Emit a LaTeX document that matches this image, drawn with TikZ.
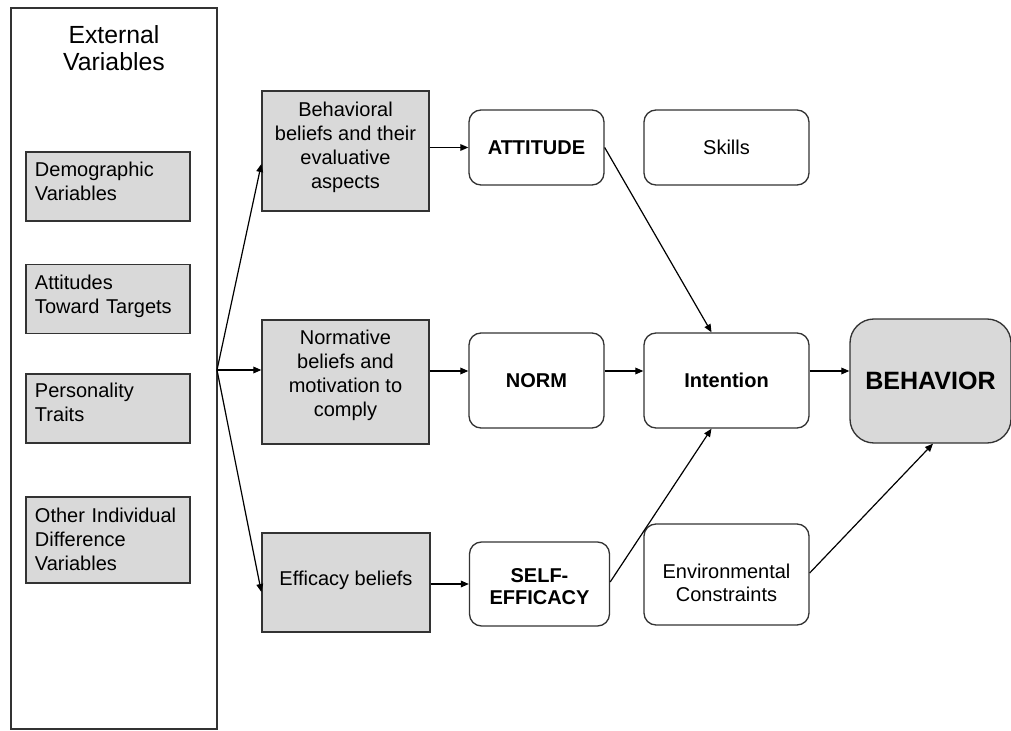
\documentclass[tikz,border=0pt]{standalone}
\usepackage{fontspec}
\setmainfont{Liberation Sans}
\usetikzlibrary{arrows.meta,calc}
\definecolor{boxfill}{HTML}{D9D9D9}
\definecolor{linec}{HTML}{333333}
% lift a block of lines by #1 without changing its size
\newcommand{\liftblock}[3]{\raisebox{#1}[\height][\depth]{\begin{tabular}{@{}#2@{}}#3\end{tabular}}}
\begin{document}
\begin{tikzpicture}[x=0.75pt,y=-0.75pt,
  base/.style={draw=linec, line width=1pt, inner sep=0pt, align=center, font=\fontsize{15}{18}\selectfont, text=black},
  grayrect/.style={base, fill=boxfill},
  leftrect/.style={base, fill=boxfill, align=left, inner xsep=6.75pt, text width=109.5pt},
  rbox/.style={base, fill=white, rounded corners=9pt},
  arr/.style={-{Triangle[length=6pt,width=5pt]}, draw=black, line width=0.9pt}]
\useasboundingbox (0,0) rectangle (1011,731);
% external variables column
\node[base, fill=white, minimum width=154.5pt, minimum height=540.75pt] (ext) at (114,368.5) {};
\node[inner sep=0pt, align=center, font=\fontsize{18.6}{20.25}\selectfont] (exttitle) at (114,48.5) {External\\Variables};
\node[leftrect, minimum height=51.75pt] (demo) at (108,186.5) {\liftblock{2pt}{l}{Demographic\\Variables}};
\node[leftrect, minimum height=51.75pt] (atttarg) at (108,299) {\liftblock{2pt}{l}{Attitudes\\Toward Targets}};
\node[leftrect, minimum height=51.75pt] (pers) at (108,408.5) {\liftblock{2.5pt}{l}{Personality\\Traits}};
\node[leftrect, minimum height=64.5pt] (other) at (108,540) {\liftblock{-1.5pt}{l}{Other Individual\\Difference\\Variables}};
% belief boxes
\node[grayrect, minimum width=125.25pt, minimum height=90pt] (beh) at (345.5,151) {\liftblock{2.8pt}{c}{Behavioral\\beliefs and their\\evaluative\\aspects}};
\node[grayrect, minimum width=125.25pt, minimum height=93pt] (normb) at (345.5,382) {\liftblock{5pt}{c}{Normative\\beliefs and\\motivation to\\comply}};
\node[grayrect, minimum width=126pt, minimum height=74.25pt] (effb) at (346,582.5) {\liftblock{1.7pt}{c}{Efficacy beliefs}};
% determinants
\node[rbox, minimum width=101.25pt, minimum height=56.25pt, font=\fontsize{15}{18}\selectfont\bfseries] (attn) at (536.5,147.5) {ATTITUDE};
\node[rbox, minimum width=123.75pt, minimum height=56.25pt] (skills) at (726.5,147.5) {Skills};
\node[rbox, minimum width=101.25pt, minimum height=71.25pt, font=\fontsize{15}{18}\selectfont\bfseries] (normn) at (536.5,380.5) {NORM};
\node[rbox, minimum width=123.75pt, minimum height=71.25pt, font=\fontsize{15}{18}\selectfont\bfseries] (intent) at (726.5,380.5) {Intention};
\node[rbox, fill=boxfill, rounded corners=18pt, minimum width=120.75pt, minimum height=93pt, font=\fontsize{18.8}{22}\selectfont\bfseries] (behav) at (930.5,381) {BEHAVIOR};
\node[rbox, minimum width=105pt, minimum height=63pt, font=\fontsize{15}{16.25}\selectfont\bfseries] (self) at (539.5,584) {\liftblock{-3.9pt}{c}{SELF-\\EFFICACY}};
\node[rbox, minimum width=123.75pt, minimum height=75.75pt, font=\fontsize{15}{17.25}\selectfont] (env) at (726.5,574.5) {\liftblock{-7.8pt}{c}{Environmental\\Constraints}};
% connectors
\coordinate (fan) at (217,370);
\draw[arr] (fan) -- ($(beh.west)+(0,13)$);
\draw[arr] (fan) -- ($(normb.west)+(0,-12)$);
\draw[arr] (fan) -- ($(effb.west)+(0,9.5)$);
\draw[arr] (beh.east |- attn.west) -- (attn.west);
\draw[arr] ($(normb.east)+(0,-11)$) coordinate (nb) -- (normn.west |- nb);
\draw[arr] (effb.east |- self.west) -- (self.west);
\draw[arr] ($(normn.east)+(0,-9.5)$) coordinate (ni) -- (intent.west |- ni);
\draw[arr] ($(intent.east)+(0,-9.5)$) coordinate (ib) -- (behav.west |- ib);
\draw[arr] (attn.east) -- ($(intent.north)+(-15,0)$);
\draw[arr] ($(self.east)+(0,-2)$) -- ($(intent.south)+(-15,0)$);
\draw[arr] ($(env.east)+(0,-1.5)$) -- ($(behav.south)+(2.5,0)$);
\end{tikzpicture}
\end{document}
